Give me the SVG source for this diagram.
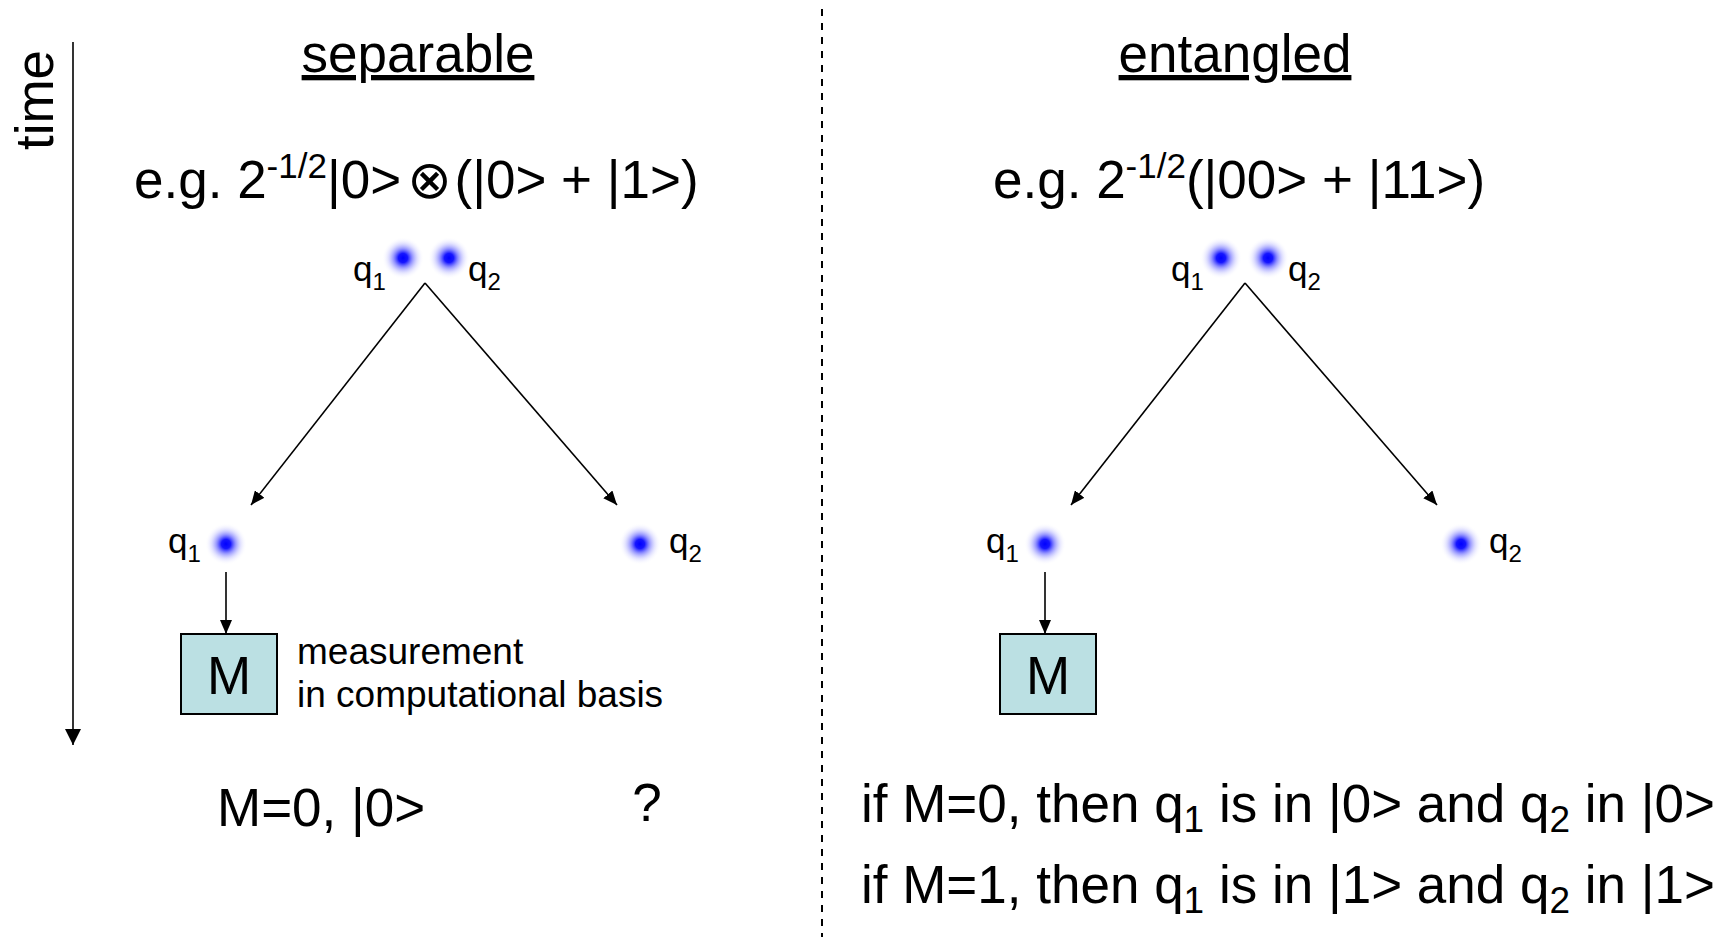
<svg xmlns="http://www.w3.org/2000/svg" width="1728" height="937" viewBox="0 0 1728 937">
<style>
text{font-family:"Liberation Sans","DejaVu Sans",Arial,sans-serif;fill:#000}
.big{font-size:53px}
.mid{font-size:37px}
.q{font-size:35px}
.sub{font-size:24px}
.bsub{font-size:37px}
.arrow{stroke:#000;stroke-width:1.6;fill:none}
.box{fill:#BBE0E3;stroke:#000;stroke-width:2}
</style>
<defs>
<radialGradient id="glow">
<stop offset="0" stop-color="#0000FF" stop-opacity="1"/>
<stop offset="0.22" stop-color="#0A0AFF" stop-opacity="0.95"/>
<stop offset="0.45" stop-color="#5050FF" stop-opacity="0.6"/>
<stop offset="0.7" stop-color="#A0A0FF" stop-opacity="0.3"/>
<stop offset="1" stop-color="#FFFFFF" stop-opacity="0"/>
</radialGradient>
<marker id="ah" markerUnits="userSpaceOnUse" markerWidth="14" markerHeight="12" refX="14" refY="6" orient="auto">
<path d="M0,0 L14,6 L0,12 z" fill="#000"/>
</marker>
<marker id="ahBig" markerUnits="userSpaceOnUse" markerWidth="16" markerHeight="16" refX="16" refY="8" orient="auto">
<path d="M0,0 L16,8 L0,16 z" fill="#000"/>
</marker>
</defs>
<rect width="1728" height="937" fill="#fff"/>

<g id="divider">
<line x1="822" y1="9" x2="822" y2="937" stroke="#000" stroke-width="2" stroke-dasharray="7 7"/>
</g>

<g id="time-axis">
<line x1="73" y1="42" x2="73" y2="745" class="arrow" marker-end="url(#ahBig)"/>
<text class="big" x="53" y="100" text-anchor="middle" transform="rotate(-90 53 100)">time</text>
</g>

<g id="title-separable">
<text class="big" x="418" y="72" text-anchor="middle" text-decoration="underline">separable</text>
</g>
<g id="title-entangled">
<text class="big" x="1235" y="72" text-anchor="middle" text-decoration="underline">entangled</text>
</g>

<g id="state-separable">
<text class="big" x="134" y="198">e.g. 2<tspan dy="-20" font-size="35">-1/2</tspan><tspan dy="20">|0&gt;</tspan><tspan dx="6">⊗</tspan><tspan dx="3">(|0&gt; + |1&gt;)</tspan></text>
</g>
<g id="state-entangled">
<text class="big" x="993" y="198">e.g. 2<tspan dy="-20" font-size="35">-1/2</tspan><tspan dy="20">(|00&gt; + |11&gt;)</tspan></text>
</g>

<g id="sep-pair">
<circle cx="403" cy="258" r="21" fill="url(#glow)"/>
<circle cx="449" cy="258" r="21" fill="url(#glow)"/>
<text class="q" x="353" y="281">q<tspan class="sub" dy="9">1</tspan></text>
<text class="q" x="468" y="281">q<tspan class="sub" dy="9">2</tspan></text>
</g>
<g id="ent-pair">
<circle cx="1221" cy="258" r="21" fill="url(#glow)"/>
<circle cx="1268" cy="258" r="21" fill="url(#glow)"/>
<text class="q" x="1171" y="281">q<tspan class="sub" dy="9">1</tspan></text>
<text class="q" x="1288" y="281">q<tspan class="sub" dy="9">2</tspan></text>
</g>

<g id="sep-q1">
<circle cx="226" cy="544" r="21" fill="url(#glow)"/>
<text class="q" x="168" y="553">q<tspan class="sub" dy="9">1</tspan></text>
</g>
<g id="sep-q2">
<circle cx="640" cy="544" r="21" fill="url(#glow)"/>
<text class="q" x="669" y="553">q<tspan class="sub" dy="9">2</tspan></text>
</g>
<g id="ent-q1">
<circle cx="1045" cy="544" r="21" fill="url(#glow)"/>
<text class="q" x="986" y="553">q<tspan class="sub" dy="9">1</tspan></text>
</g>
<g id="ent-q2">
<circle cx="1461" cy="544" r="21" fill="url(#glow)"/>
<text class="q" x="1489" y="553">q<tspan class="sub" dy="9">2</tspan></text>
</g>

<g id="sep-measure">
<rect class="box" x="181" y="634" width="96" height="80"/>
<text class="big" x="229" y="694" text-anchor="middle">M</text>
<text class="mid" x="297" y="664">measurement</text>
<text class="mid" x="297" y="707">in computational basis</text>
</g>
<g id="ent-measure">
<rect class="box" x="1000" y="634" width="96" height="80"/>
<text class="big" x="1048" y="694" text-anchor="middle">M</text>
</g>

<g id="connectors">
<line x1="425" y1="283" x2="251" y2="505" class="arrow" marker-end="url(#ah)"/>
<line x1="425" y1="283" x2="617" y2="505" class="arrow" marker-end="url(#ah)"/>
<line x1="1245" y1="283" x2="1071" y2="505" class="arrow" marker-end="url(#ah)"/>
<line x1="1245" y1="283" x2="1437" y2="505" class="arrow" marker-end="url(#ah)"/>
<line x1="226" y1="572" x2="226" y2="634" class="arrow" marker-end="url(#ah)"/>
<line x1="1045" y1="572" x2="1045" y2="634" class="arrow" marker-end="url(#ah)"/>
</g>

<g id="sep-result">
<text class="big" x="217" y="826">M=0, |0&gt;</text>
<text class="big" x="647" y="821" text-anchor="middle">?</text>
</g>
<g id="ent-result">
<text class="big" x="861" y="822">if M=0, then q<tspan class="bsub" dy="10">1</tspan><tspan dy="-10"> is in |0&gt; and q</tspan><tspan class="bsub" dy="10">2</tspan><tspan dy="-10"> in |0&gt;</tspan></text>
<text class="big" x="861" y="903">if M=1, then q<tspan class="bsub" dy="10">1</tspan><tspan dy="-10"> is in |1&gt; and q</tspan><tspan class="bsub" dy="10">2</tspan><tspan dy="-10"> in |1&gt;</tspan></text>
</g>
</svg>
